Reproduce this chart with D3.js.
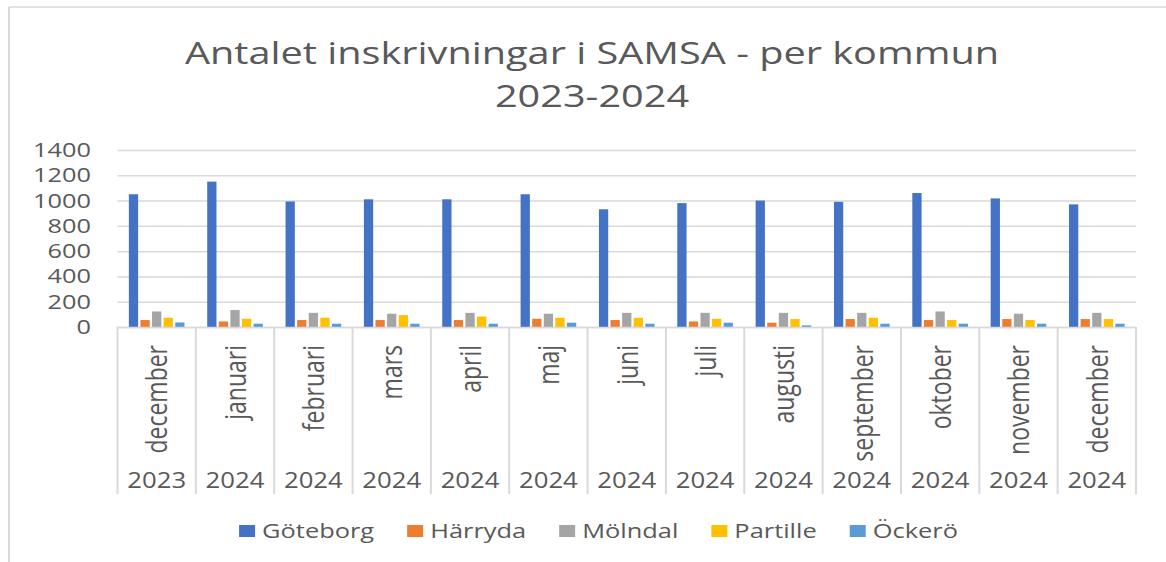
<!DOCTYPE html>
<html>
<head>
<meta charset="utf-8">
<script src="https://cdn.jsdelivr.net/npm/d3@7"></script>
<style>
  html, body { margin: 0; padding: 0; background: #ffffff; }
  svg { display: block; }
  text { font-family: "Open Sans", "DejaVu Sans", sans-serif; fill: #595959; }
</style>
</head>
<body>
<svg id="chart" width="1166" height="562"></svg>
<script>
// ---- Data ----
const titleLines = ["Antalet inskrivningar i SAMSA - per kommun", "2023-2024"];
const months = ["december", "januari", "februari", "mars", "april", "maj", "juni", "juli", "augusti", "september", "oktober", "november", "december"];
const years = ["2023", "2024", "2024", "2024", "2024", "2024", "2024", "2024", "2024", "2024", "2024", "2024", "2024"];
const seriesNames = ["Göteborg", "Härryda", "Mölndal", "Partille", "Öckerö"];
const goteborg = [1050, 1150, 993, 1010, 1010, 1050, 931, 980, 1000, 990, 1060, 1017, 970];
const harryda  = [55, 44, 55, 55, 55, 65, 55, 44, 34, 63, 55, 63, 63];
const molndal  = [123, 134, 112, 105, 112, 105, 112, 112, 112, 112, 123, 105, 112];
const partille = [73, 65, 73, 94, 83, 73, 73, 65, 63, 73, 55, 55, 63];
const ockero   = [36, 26, 26, 26, 26, 34, 26, 34, 13, 26, 26, 26, 26];
const yTicks = [0, 200, 400, 600, 800, 1000, 1200, 1400];

const seriesValues = [goteborg, harryda, molndal, partille, ockero];
const colors = ["#4472C4", "#ED7D31", "#A5A5A5", "#FFC000", "#5B9BD5"];

// ---- Layout ----
const svg = d3.select("#chart");
const W = 1166, H = 562;
const plot = { left: 117.5, right: 1136, top: 150, bottom: 327 };
const gridColor = "#d9d9d9";

const cats = months.map((m, i) => i);
const x0 = d3.scaleBand().domain(cats).range([plot.left, plot.right]).paddingInner(0).paddingOuter(0);
const bw = x0.bandwidth();
const x1 = d3.scaleBand().domain(seriesNames).range([bw * 0.145, bw * 0.855]).paddingInner(0.2);
const y = d3.scaleLinear().domain([0, 1400]).range([plot.bottom, plot.top]);

// chart frame (cropped on right/bottom)
svg.append("line").attr("x1", 9).attr("x2", W).attr("y1", 7).attr("y2", 7)
  .attr("stroke", gridColor).attr("stroke-width", 1.5);
svg.append("line").attr("x1", 9).attr("x2", 9).attr("y1", 7).attr("y2", H)
  .attr("stroke", gridColor).attr("stroke-width", 2);

// helper for horizontally stretched text
function htext(parent, x, yy, str, size, anchor, sx) {
  const g = parent.append("g").attr("transform", `translate(${x},${yy})`);
  const t = g.append("text").attr("transform", `scale(${sx},1)`)
    .attr("text-anchor", anchor).style("font-size", size + "px").text(str);
  return t;
}

// title
const titleG = svg.append("g");
const titleY = [64, 107];
titleLines.forEach((ln, i) => {
  htext(titleG, 592, titleY[i], ln, 31.5, "middle", 1.26);
});

// gridlines
const yAxis = d3.axisLeft(y).tickValues(yTicks).tickSize(-(plot.right - plot.left)).tickFormat("");
const gGrid = svg.append("g").attr("transform", `translate(${plot.left},0)`).call(yAxis);
gGrid.select(".domain").remove();
gGrid.selectAll(".tick line").attr("stroke", gridColor).attr("stroke-width", 1.5);

// y tick labels
const yl = svg.append("g");
yTicks.forEach(v => {
  htext(yl, 91, y(v), d3.format("d")(v), 19.5, "end", 1.3).attr("dy", "0.36em");
});

// bars
const gBars = svg.append("g");
seriesNames.forEach((s, si) => {
  gBars.selectAll(null).data(seriesValues[si]).enter().append("rect")
    .attr("x", (d, i) => x0(i) + x1(s))
    .attr("width", x1.bandwidth())
    .attr("y", d => y(d))
    .attr("height", d => y(0) - y(d))
    .attr("fill", colors[si]);
});

// category axis line and dividers
svg.append("line").attr("x1", plot.left).attr("x2", plot.right)
  .attr("y1", plot.bottom + 0.5).attr("y2", plot.bottom + 0.5)
  .attr("stroke", gridColor).attr("stroke-width", 1.5);
const dividers = cats.map(i => x0(i)).concat([plot.right]);
svg.append("g").selectAll("line").data(dividers).enter().append("line")
  .attr("x1", d => d).attr("x2", d => d)
  .attr("y1", plot.bottom).attr("y2", 494)
  .attr("stroke", gridColor).attr("stroke-width", 2);

// month labels (rotated)
const gm = svg.append("g");
months.forEach((m, i) => {
  const cx = x0(i) + bw / 2;
  gm.append("g").attr("transform", `translate(${cx},345)`)
    .append("text")
    .attr("transform", "rotate(-90) scale(1,1.3)")
    .attr("text-anchor", "end")
    .attr("dy", "0.36em")
    .style("font-size", "23px")
    .text(m);
});

// year labels
const gy = svg.append("g");
years.forEach((yr, i) => {
  htext(gy, x0(i) + bw / 2, 488, yr, 22, "middle", 1.17);
});

// legend
const legend = svg.append("g");
const items = [];
let cursor = 0;
const markerW = 16, markerH = 12, markerGap = 7, itemGap = 33, legendSize = 20.5, legendSX = 1.24;
seriesNames.forEach((s, si) => {
  const g = legend.append("g");
  g.append("rect").attr("x", 0).attr("y", -markerH / 2).attr("width", markerW).attr("height", markerH)
    .attr("fill", colors[si]);
  const t = htext(g, markerW + markerGap, 0, s, legendSize, "start", legendSX).attr("dy", "0.36em");
  const w = markerW + markerGap + t.node().getComputedTextLength() * legendSX;
  items.push({ g, x: cursor });
  cursor += w + itemGap;
});
const totalW = cursor - itemGap;
const legendCenter = 598.5;
items.forEach(it => it.g.attr("transform", `translate(${legendCenter - totalW / 2 + it.x},531)`));
</script>
</body>
</html>
